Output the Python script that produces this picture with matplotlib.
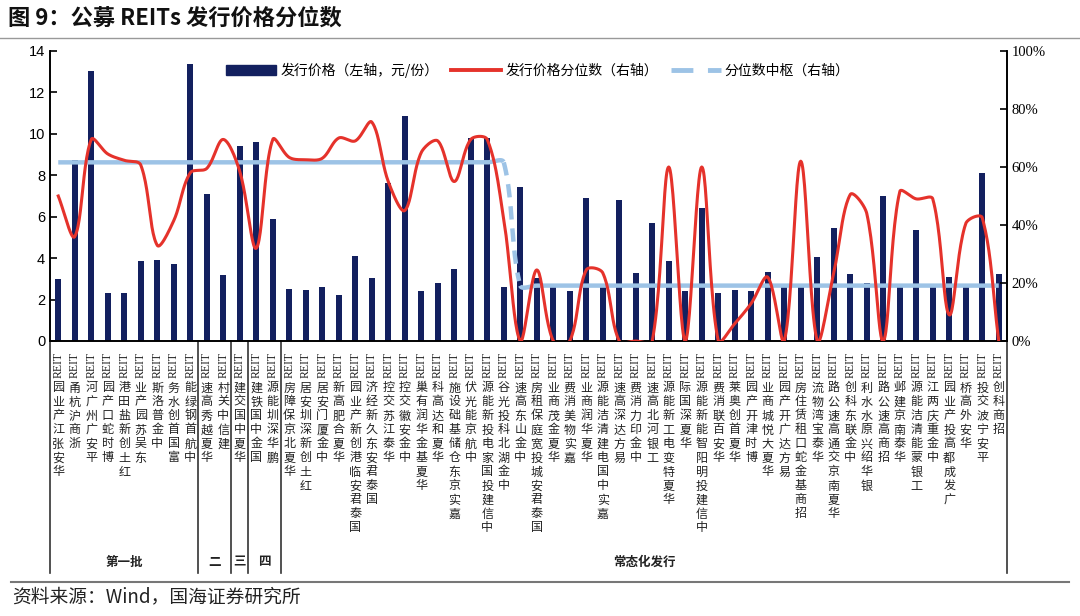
import numpy as np
import matplotlib
matplotlib.use("Agg")
import matplotlib.pyplot as plt
from matplotlib.patches import Patch
from matplotlib.lines import Line2D
import matplotlib.transforms as mtransforms

plt.rcParams['font.family'] = ['Noto Sans CJK SC', 'DejaVu Sans']

# categories, grouped by issue batch
batch1 = ['华安张江产业园REIT', '浙商沪杭甬REIT', '平安广州广河REIT', '博时蛇口产园REIT',
          '红土创新盐田港REIT', '东吴苏园产业REIT', '中金普洛斯REIT', '富国首创水务REIT',
          '中航首钢绿能REIT']
batch2 = ['华夏越秀高速REIT', '建信中关村REIT']
batch3 = ['华夏中国交建REIT']
batch4 = ['国金中国铁建REIT', '鹏华深圳能源REIT']
regular = ['华夏北京保障房REIT', '红土创新深圳安居REIT', '中金厦门安居REIT', '华夏合肥高新REIT',
           '国泰君安临港创新产业园REIT', '国泰君安东久新经济REIT', '华泰江苏交控REIT',
           '中金安徽交控REIT', '华夏基金华润有巢REIT', '华夏和达高科REIT',
           '嘉实京东仓储基础设施REIT', '中航京能光伏REIT', '中信建投国家电投新能源REIT',
           '中金湖北科投光谷REIT', '中金山东高速REIT', '国泰君安城投宽庭保租房REIT',
           '华夏金茂商业REIT', '嘉实物美消费REIT', '华夏华润商业REIT', '嘉实中国电建清洁能源REIT',
           '易方达深高速REIT', '中金印力消费REIT', '工银河北高速REIT', '华夏特变电工新能源REIT',
           '华夏深国际REIT', '中信建投明阳智能新能源REIT', '华安百联消费REIT', '华夏首创奥莱REIT',
           '博时津开产园REIT', '华夏大悦城商业REIT', '易方达广开产园REIT',
           '招商基金蛇口租赁住房REIT', '华泰宝湾物流REIT', '华夏南京交通高速公路REIT',
           '中金联东科创REIT', '银华绍兴原水水利REIT', '招商高速公路REIT', '华泰南京建邺REIT',
           '工银蒙能清洁能源REIT', '中金重庆两江REIT', '广发成都高投产业园REIT', '华安外高桥REIT',
           '平安宁波交投REIT', '招商科创REIT']
group_names = ['第一批', '二', '三', '四', '常态化发行']
groups = [batch1, batch2, batch3, batch4, regular]
names = batch1 + batch2 + batch3 + batch4 + regular

# issue price (left axis, yuan per unit)
price = [3.00, 8.72, 13.02, 2.31, 2.30, 3.88, 3.89, 3.70, 13.38, 7.10, 3.20, 9.40, 9.59, 5.90,
         2.51, 2.48, 2.60, 2.20, 4.10, 3.05, 7.65, 10.88, 2.42, 2.80, 3.50, 9.80, 9.80, 2.60, 7.43,
         3.05, 2.60, 2.40, 6.90, 2.60, 6.80, 3.28, 5.70, 3.87, 2.40, 6.42, 2.33, 2.46, 2.42, 3.35,
         2.60, 2.60, 4.06, 5.45, 3.23, 2.82, 7.00, 2.60, 5.34, 2.60, 3.10, 2.60, 8.10, 3.23]
# issue price percentile (right axis, %)
pct = [50, 36, 69.5, 64.5, 62.3, 60.7, 33, 41.5, 58, 59.5, 69.5, 58.5, 32, 69.5,
       63.3, 62.5, 63, 70, 69, 75.5, 55, 45, 65, 69, 55, 69.5, 69.5, 42, 0,
       24.5, 0, 0, 24.5, 23.5, 0, 0, 0, 60, 0, 60, 0, 6, 13, 22, 0, 62,
       0, 23.5, 50.5, 44, 0, 51.5, 49, 49, 9, 40.5, 42.5, 0]
# percentile centre (right axis, %)
centre = [61.6] * 28 + [19.1] * 30

navy = '#13205f'
red = '#e5322b'
blue = '#9dc3e6'


def smooth(y, sx=16.5, sy=2.9, n=24):
    # excel-like smoothed line: bezier with distance-weighted tangents
    p = np.column_stack([np.arange(len(y)) * sx, np.asarray(y, float) * sy])
    xs, ys, seg = [], [], []
    t = np.linspace(0, 1, n, endpoint=False)[:, None]
    for i in range(len(p) - 1):
        a = p[i - 1] if i > 0 else p[i]
        b, c = p[i], p[i + 1]
        d = p[i + 2] if i + 2 < len(p) else p[i + 1]
        d0, d1, d2 = np.linalg.norm(b - a), np.linalg.norm(c - b), np.linalg.norm(d - c)
        c1 = b + (c - a) * d1 / (d0 + d1) / 3 if d0 + d1 > 0 else b
        c2 = c - (d - b) * d1 / (d1 + d2) / 3 if d1 + d2 > 0 else c
        q = (1 - t) ** 3 * b + 3 * (1 - t) ** 2 * t * c1 + 3 * (1 - t) * t ** 2 * c2 + t ** 3 * c
        xs.append(q[:, 0] / sx)
        ys.append(q[:, 1] / sy)
        seg.append(np.full(n, i))
    xs.append([len(y) - 1]); ys.append([y[-1]]); seg.append([len(y) - 2])
    return np.concatenate(xs), np.concatenate(ys), np.concatenate(seg)


fig = plt.figure(figsize=(10.8, 6.16), dpi=100)
ax = fig.add_axes([50 / 1080, 1 - 341 / 616, 957 / 1080, 290 / 616])
ax2 = ax.twinx()

x = np.arange(len(names))
ax.bar(x, price, width=0.38, color=navy, zorder=2)
ax.set_xlim(-0.5, len(names) - 0.5)
ax.set_ylim(0, 14)
ax.set_yticks(range(0, 15, 2))
ax.set_xticks([])
ax2.set_ylim(0, 100)
ax2.set_yticks(range(0, 101, 20))
ax2.set_yticklabels([f'{v}%' for v in range(0, 101, 20)])
for a in (ax, ax2):
    a.spines['top'].set_visible(False)
    for s in a.spines.values():
        s.set_linewidth(1.2)
    a.tick_params(direction='in', length=5, width=1.2)
for lab in ax.get_yticklabels():
    lab.set_fontfamily('Liberation Sans')
    lab.set_fontsize(10.5)
for lab in ax2.get_yticklabels():
    lab.set_fontfamily('Liberation Serif')
    lab.set_fontsize(10.5)

# centre line: flat parts solid, the drop dashed
cx, cy, cs = smooth(centre)
flat = np.array([centre[i] == centre[i + 1] for i in range(len(centre) - 1)])[cs]
ax2.plot(cx, np.where(flat, cy, np.nan), color=blue, lw=3.2, solid_capstyle='butt', zorder=3)
ax2.plot(cx, np.where(~flat, cy, np.nan), color=blue, lw=3.2, ls=(0, (3, 2)), zorder=3)

px, py, _ = smooth(pct)
ax2.plot(px, py, color=red, lw=2.2, zorder=4)

# vertical tick labels: REIT rotated, chinese characters stacked upright
trans = mtransforms.blended_transform_factory(ax.transData, ax.transAxes)
for i, name in enumerate(names):
    cjk = name[:-4]
    ax.annotate('REIT', xy=(i, 0), xycoords=trans, xytext=(0, -11), textcoords='offset pixels',
                rotation=90, ha='center', va='top', fontsize=8.5, family='Liberation Serif',
                color='#222222', annotation_clip=False)
    for j, ch in enumerate(cjk[::-1]):
        ax.annotate(ch, xy=(i, 0), xycoords=trans, xytext=(0, -(47 + 14 * j)),
                    textcoords='offset pixels', ha='center', va='center', fontsize=8.7,
                    color='#222222', annotation_clip=False)

# batch separators and labels below the axis
bottom = -(573 - 341) / 290
edges = np.cumsum([0] + [len(g) for g in groups]) - 0.5
for e in edges:
    ax.plot([e, e], [0, bottom], transform=trans, color='#333333', lw=1.2, clip_on=False)
for k, g in enumerate(group_names):
    mid = (edges[k] + edges[k + 1]) / 2
    ax.text(mid, -(562 - 341) / 290, g, transform=trans, ha='center', va='center',
            fontsize=9, fontweight='bold', color='#222222')

handles = [Patch(color=navy),
           Line2D([], [], color=red, lw=2.8),
           Line2D([], [], color=blue, lw=3.5, ls=(0, (4.5, 3)))]
labels = ['发行价格（左轴，元/份）', '发行价格分位数（右轴）', '分位数中枢（右轴）']
fig.legend(handles, labels, loc='center', bbox_to_anchor=(538 / 1080, 1 - 70 / 616), ncol=3,
           frameon=False, fontsize=10, handlelength=3.6, handletextpad=0.3,
           columnspacing=0.9, handleheight=0.75)

fig.text(8 / 1080, 1 - 18 / 616, '图 9：公募 REITs 发行价格分位数', ha='left', va='center',
         fontsize=16, fontweight='bold', color='#111111')
fig.add_artist(Line2D([0, 1], [1 - 38 / 616] * 2, transform=fig.transFigure, color='#999999', lw=1))
fig.add_artist(Line2D([0.01, 0.99], [1 - 582 / 616] * 2, transform=fig.transFigure,
                      color='#777777', lw=1.5))
fig.text(12 / 1080, 1 - 597 / 616, '资料来源：Wind，国海证券研究所', ha='left', va='center',
         fontsize=13.5, color='#222222')

fig.savefig('out.png', dpi=100)
